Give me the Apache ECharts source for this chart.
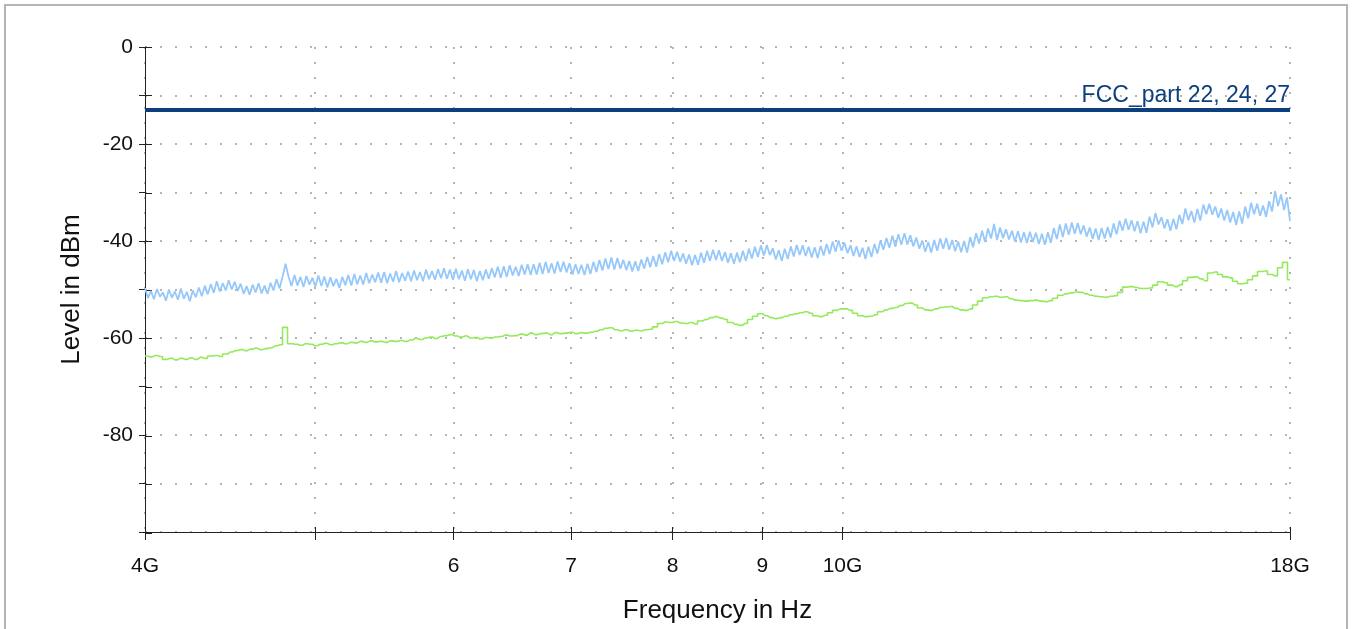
<!DOCTYPE html>
<html><head><meta charset="utf-8">
<script src="https://cdn.jsdelivr.net/npm/echarts@6/dist/echarts.min.js"></script>
<style>
html,body{margin:0;padding:0;background:#fff;}
#wrap{position:relative;width:1358px;height:629px;overflow:hidden;background:#fff;}
#frame{position:absolute;left:4px;top:4px;width:1340px;height:700px;border:2px solid #b4b4b4;}
#chart{position:absolute;left:0;top:0;width:1358px;height:629px;}
</style>
</head><body>
<div id="wrap"><div id="frame"></div><div id="chart"></div></div>
<script>
// Sweep: 4 GHz .. 18 GHz, points equally spaced on the log frequency scale
const SWEEP_START_GHZ = 4;
const SWEEP_STOP_GHZ = 18;
const X_TICKS = [4, 5, 6, 7, 8, 9, 10, 18];
const X_LABELS = [4, 6, 7, 8, 9, 10, 18];
const Y_TICK_LABELS = [0, -20, -40, -60, -80];
const LIMIT_NAME = 'FCC_part 22, 24, 27';
const LIMIT_DBM = -13;

// Peak trace (light blue), dBm
const peakValues = [
-49.7,-51.8,-50.3,-52.0,-49.9,-51.5,-50.6,-52.3,-50.0,-51.7,
-50.4,-52.1,-49.8,-51.9,-50.5,-52.4,-50.2,-51.6,-49.6,-51.4,
-49.2,-51.0,-48.9,-50.7,-48.3,-50.4,-48.7,-50.2,-48.1,-50.0,
-48.4,-50.3,-48.8,-50.9,-49.3,-51.1,-49.0,-50.6,-48.7,-50.8,
-49.2,-50.9,-48.6,-50.2,-47.9,-49.8,-47.4,-44.7,-47.3,-49.3,
-47.0,-49.2,-47.4,-49.5,-47.2,-49.0,-47.6,-49.4,-47.1,-49.3,
-47.3,-49.6,-47.5,-49.3,-47.8,-49.7,-47.4,-49.1,-47.0,-49.2,
-46.8,-48.9,-47.1,-49.0,-46.6,-48.7,-46.9,-48.5,-46.5,-48.6,
-46.4,-48.7,-46.7,-48.4,-46.2,-48.5,-46.6,-48.2,-46.3,-48.3,
-46.1,-48.1,-46.4,-48.3,-45.9,-47.9,-46.2,-48.0,-45.8,-47.7,
-45.6,-47.8,-45.9,-48.0,-45.7,-47.9,-46.1,-48.2,-45.8,-47.9,
-46.0,-48.3,-46.2,-48.1,-45.9,-47.8,-45.6,-47.5,-45.3,-47.6,
-45.2,-47.4,-45.0,-47.1,-45.3,-47.2,-44.9,-46.9,-44.8,-47.0,
-44.8,-46.9,-44.5,-46.8,-44.3,-46.6,-44.6,-46.7,-44.2,-46.4,
-44.3,-46.5,-44.6,-46.9,-44.8,-46.8,-44.9,-47.0,-44.7,-46.8,
-44.3,-46.4,-43.9,-46.1,-43.6,-45.8,-43.4,-45.9,-43.5,-45.7,
-43.9,-46.0,-44.1,-46.3,-44.2,-46.2,-43.8,-45.7,-43.3,-45.4,
-43.1,-45.3,-42.7,-44.8,-42.3,-44.4,-42.0,-44.1,-42.2,-44.3,
-42.6,-44.7,-42.8,-45.0,-42.9,-44.9,-42.4,-44.5,-42.0,-44.1,
-41.8,-43.9,-41.9,-44.1,-42.3,-44.5,-42.5,-44.7,-42.4,-44.4,
-42.0,-44.1,-41.6,-43.6,-41.2,-43.3,-40.9,-43.0,-40.8,-42.9,
-41.5,-43.8,-41.9,-44.1,-41.6,-43.7,-41.1,-43.2,-40.8,-42.9,
-40.9,-43.1,-41.2,-43.4,-41.3,-43.5,-41.0,-43.0,-40.6,-42.7,
-40.1,-42.2,-39.9,-42.0,-40.4,-42.5,-40.9,-43.1,-41.1,-43.3,
-41.4,-43.7,-41.2,-43.3,-40.6,-42.6,-39.9,-41.8,-39.4,-41.4,
-38.9,-41.2,-38.6,-40.8,-38.4,-40.7,-38.8,-41.1,-39.3,-41.6,
-39.9,-42.2,-40.2,-42.4,-39.8,-42.0,-39.5,-41.6,-39.4,-41.8,
-39.8,-42.1,-40.1,-42.3,-40.0,-42.4,-39.2,-41.3,-38.4,-40.5,
-37.9,-40.2,-37.4,-39.5,-36.5,-39.8,-37.2,-39.4,-37.6,-39.7,
-37.9,-40.1,-38.0,-40.3,-38.2,-40.4,-38.1,-40.2,-38.3,-40.6,
-38.5,-40.8,-38.2,-40.4,-37.3,-39.6,-36.6,-39.2,-36.4,-38.7,
-36.2,-38.5,-36.3,-38.6,-36.8,-39.1,-37.2,-39.6,-37.4,-39.8,
-37.3,-39.5,-37.1,-39.3,-36.4,-38.6,-35.8,-37.9,-35.4,-37.7,
-35.7,-38.0,-35.9,-38.4,-36.0,-38.3,-35.0,-37.2,-34.2,-36.6,
-35.1,-37.4,-35.5,-37.9,-35.4,-37.6,-34.6,-36.5,-33.3,-35.7,
-33.8,-36.2,-33.4,-35.8,-32.5,-34.5,-32.3,-34.6,-32.9,-35.2,
-33.3,-35.8,-33.6,-36.2,-34.0,-36.7,-33.9,-36.4,-32.9,-35.3,
-32.1,-34.5,-32.3,-34.8,-32.7,-35.0,-31.8,-33.9,-29.7,-32.8,
-30.4,-33.6,-31.0,-35.9
];

// Average trace (green), dBm
const avgValues = [
-63.7,-63.9,-63.6,-63.8,-64.4,-64.2,-64.5,-64.2,-64.4,-64.1,
-64.4,-64.0,-64.2,-63.7,-63.6,-63.8,-63.3,-62.9,-62.6,-62.4,
-62.6,-62.3,-62.1,-62.4,-62.2,-62.0,-61.6,-61.4,-57.8,-61.2,
-61.3,-61.5,-61.2,-61.3,-61.6,-61.3,-61.1,-61.4,-61.2,-61.0,
-61.2,-60.9,-61.0,-60.7,-60.9,-60.6,-60.8,-60.7,-60.9,-60.6,
-60.7,-60.5,-60.7,-60.4,-60.1,-60.3,-60.0,-59.8,-60.1,-59.7,
-59.5,-59.3,-59.6,-59.8,-59.6,-60.0,-59.9,-60.2,-59.9,-60.0,
-59.8,-59.7,-59.4,-59.6,-59.5,-59.2,-59.4,-59.0,-59.3,-59.1,
-59.0,-59.3,-58.9,-59.1,-59.0,-58.8,-59.1,-58.9,-59.0,-58.8,
-58.6,-58.3,-58.0,-57.9,-58.3,-58.5,-58.3,-58.6,-58.4,-58.5,
-58.3,-58.2,-57.7,-57.0,-56.7,-56.8,-56.6,-56.9,-57.0,-56.8,
-57.1,-56.5,-56.2,-55.8,-55.6,-55.9,-56.2,-56.8,-57.2,-57.4,
-57.0,-56.2,-55.5,-55.0,-55.4,-55.8,-56.0,-55.8,-55.5,-55.2,
-55.0,-54.8,-54.6,-54.9,-55.4,-55.6,-55.3,-54.8,-54.3,-54.0,
-54.0,-54.3,-54.9,-55.4,-55.6,-55.5,-55.2,-54.6,-54.2,-53.9,
-53.7,-53.3,-52.9,-52.8,-53.2,-53.8,-54.2,-54.3,-54.0,-53.7,
-53.6,-53.5,-53.9,-54.2,-54.3,-54.0,-53.2,-52.4,-51.7,-51.5,
-51.4,-51.6,-51.5,-51.9,-52.2,-52.3,-52.4,-52.3,-52.2,-52.4,
-52.5,-52.3,-51.8,-51.2,-50.9,-50.7,-50.5,-50.6,-50.9,-51.2,
-51.4,-51.5,-51.6,-51.4,-51.3,-50.6,-49.5,-49.4,-49.6,-49.8,
-49.8,-49.7,-49.1,-48.4,-48.6,-49.1,-49.4,-49.0,-48.2,-47.5,
-47.4,-47.8,-48.2,-46.6,-46.4,-46.9,-47.4,-47.6,-48.3,-48.8,
-48.7,-48.0,-47.2,-46.3,-46.2,-46.9,-47.2,-45.5,-44.4,-48.0
];

function sweepFreqs(n) {
  const out = [];
  const ratio = SWEEP_STOP_GHZ / SWEEP_START_GHZ;
  for (let i = 0; i < n; i++) out.push(SWEEP_START_GHZ * Math.pow(ratio, i / (n - 1)));
  return out;
}
function pairUp(values) {
  const f = sweepFreqs(values.length);
  return values.map((v, i) => [f[i], v]);
}

const FONT = 'Liberation Sans, Arial, sans-serif';
const gridLine = { show: true, lineStyle: { color: '#b4b4b4', width: 2, type: [2, 13] } };
const GRID_POS = { left: 145, right: 68, top: 47, bottom: 96, containLabel: false };

function xLabel(v) {
  const r = Math.round(v * 1000) / 1000;
  if (r === 4 || r === 10 || r === 18) return r + 'G';
  return String(r);
}

const chart = echarts.init(document.getElementById('chart'), null, { renderer: 'canvas' });
chart.setOption({
  animation: false,
  backgroundColor: 'transparent',
  grid: [Object.assign({}, GRID_POS), Object.assign({}, GRID_POS)],
  xAxis: [{
    gridIndex: 0,
    type: 'log', logBase: 10, min: SWEEP_START_GHZ, max: SWEEP_STOP_GHZ,
    position: 'bottom',
    name: 'Frequency in Hz', nameLocation: 'middle', nameGap: 66,
    nameTextStyle: { fontFamily: FONT, fontSize: 26, color: '#111' },
    axisLine: { show: true, onZero: false, lineStyle: { color: '#222', width: 1 } },
    axisTick: { show: true, inside: false, length: 8, customValues: X_TICKS, lineStyle: { color: '#222' } },
    axisLabel: { show: true, customValues: X_LABELS, formatter: xLabel, margin: 24,
      fontFamily: FONT, fontSize: 21, color: '#111' },
    splitLine: gridLine,
    minorTick: { show: false }, minorSplitLine: { show: false }
  }, {
    gridIndex: 1,
    type: 'log', logBase: 10, min: SWEEP_START_GHZ, max: SWEEP_STOP_GHZ,
    position: 'bottom',
    axisLine: { show: false, onZero: false },
    axisTick: { show: true, inside: true, length: 6, customValues: X_TICKS.slice(1), lineStyle: { color: '#222' } },
    axisLabel: { show: false }, splitLine: { show: false }
  }],
  yAxis: [{
    gridIndex: 0,
    type: 'value', min: -100, max: 0, interval: 10, position: 'left',
    name: 'Level in dBm', nameLocation: 'middle', nameGap: 60, nameRotate: 90,
    nameTextStyle: { fontFamily: FONT, fontSize: 26, color: '#111' },
    axisLine: { show: true, onZero: false, lineStyle: { color: '#222', width: 1 } },
    axisTick: { show: true, inside: false, length: 6, lineStyle: { color: '#222' } },
    axisLabel: { show: true, margin: 12, fontFamily: FONT, fontSize: 21, color: '#111',
      formatter: v => (Y_TICK_LABELS.indexOf(v) >= 0 ? String(v) : '') },
    splitLine: gridLine
  }, {
    gridIndex: 1,
    type: 'value', min: -100, max: 0, interval: 10, position: 'left',
    axisLine: { show: false, onZero: false },
    axisTick: { show: true, inside: true, length: 7, lineStyle: { color: '#222' } },
    axisLabel: { show: false }, splitLine: { show: false }
  }],
  series: [{
    name: 'Peak', type: 'line', xAxisIndex: 0, yAxisIndex: 0,
    data: pairUp(peakValues), showSymbol: false, symbol: 'none',
    lineStyle: { color: '#96c8fa', width: 1.8 }, z: 3
  }, {
    name: 'Average', type: 'line', xAxisIndex: 0, yAxisIndex: 0, step: 'middle',
    data: pairUp(avgValues), showSymbol: false, symbol: 'none',
    lineStyle: { color: '#94ea5c', width: 1.6 }, z: 3
  }, {
    name: LIMIT_NAME, type: 'line', xAxisIndex: 0, yAxisIndex: 0,
    data: [[SWEEP_START_GHZ, LIMIT_DBM], [SWEEP_STOP_GHZ, LIMIT_DBM]],
    symbol: 'none', showSymbol: false,
    lineStyle: { color: '#0b3f7d', width: 4 }, z: 4,
    endLabel: { show: true, formatter: LIMIT_NAME, align: 'right', verticalAlign: 'bottom',
      distance: 0, offset: [0, -3], fontFamily: FONT, fontSize: 23, color: '#0b3f7d' }
  }]
});
</script>
</body></html>
